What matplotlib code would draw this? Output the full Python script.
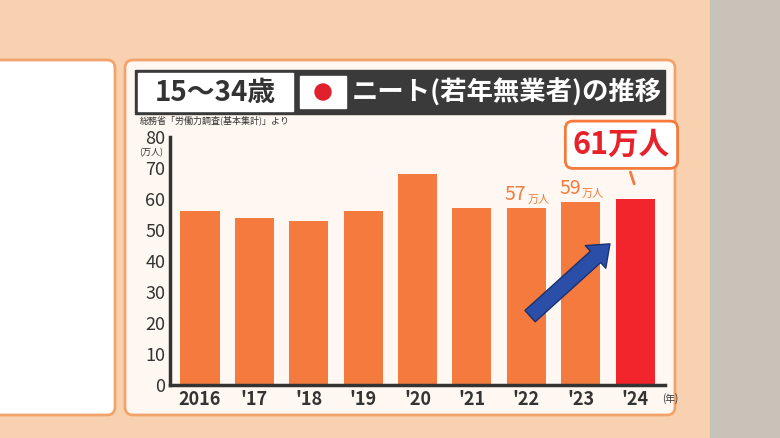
import matplotlib
matplotlib.use("Agg")
import matplotlib.pyplot as plt
from matplotlib.patches import FancyBboxPatch, Rectangle, Circle

plt.rcParams['font.family'] = ['Noto Sans CJK JP', 'DejaVu Sans']

years = ['2016', "'17", "'18", "'19", "'20", "'21", "'22", "'23", "'24"]
values = [56, 54, 53, 56, 68, 57, 57, 59, 60]
labels = {6: '57', 7: '59'}
yticks = [0, 10, 20, 30, 40, 50, 60, 70, 80]

fig = plt.figure(figsize=(7.8, 4.38), dpi=100)
fig.patch.set_facecolor('#F6C9A4')
bg = fig.add_axes([0, 0, 1, 1]); bg.set_xlim(0, 780); bg.set_ylim(438, 0); bg.axis('off')
bg.add_patch(Rectangle((0, 0), 780, 438, color='#F8D2B0'))
bg.add_patch(Rectangle((710, 0), 70, 438, color='#C9C2B8'))
bg.add_patch(FancyBboxPatch((-20, 60), 135, 355, boxstyle='round,pad=0,rounding_size=8', fc='white', ec='#F2A36B', lw=2))
bg.add_patch(FancyBboxPatch((125, 60), 550, 355, boxstyle='round,pad=0,rounding_size=8', fc='#FFF8F2', ec='#F2A36B', lw=2))
bg.add_patch(Rectangle((135, 70), 530, 44, color='#3A3A3A'))
bg.add_patch(Rectangle((138, 73), 155, 38, color='white'))
bg.text(215, 93, '15〜34歳', fontsize=20, fontweight='bold', color='#333333', ha='center', va='center')
bg.add_patch(Rectangle((300, 76), 46, 32, color='white'))
bg.add_patch(Circle((323, 92), 8, color='#E0202A'))
bg.text(352, 93, 'ニート(若年無業者)の推移', fontsize=19, fontweight='bold', color='white', ha='left', va='center')
bg.text(140, 120, '総務省「労働力調査(基本集計)」より', fontsize=6.5, color='#333333', ha='left', va='center')

ax = fig.add_axes([170/780, 1-385/438, (665-170)/780, (385-137)/438])
ax.set_facecolor('none')
colors = ['#F47A3E'] * 8 + ['#F2252D']
x = range(len(years))
ax.bar(x, values, width=0.72, color=colors)
ax.set_ylim(0, 80)
ax.set_xlim(-0.55, len(years) - 0.45)
ax.set_yticks(yticks)
ax.set_yticklabels([str(t) for t in yticks], fontsize=13, color='#333333')
ax.set_xticks(list(x))
ax.set_xticklabels(years, fontsize=13, fontweight='bold', color='#333333')
for s in ['top', 'right']:
    ax.spines[s].set_visible(False)
ax.spines['left'].set_linewidth(2.5); ax.spines['bottom'].set_linewidth(2.5)
ax.spines['left'].set_color('#333333'); ax.spines['bottom'].set_color('#333333')
ax.tick_params(length=0)
ax.text(-0.9, 76.5, '(万人)', fontsize=6.5, color='#333333', ha='center', va='top', clip_on=False)
ax.text(8.5, -4.5, '(年)', fontsize=7, color='#333333', ha='left', va='center', clip_on=False)
for i, lab in labels.items():
    ax.text(i, values[i] + 1, lab, fontsize=14, color='#F47A3E', ha='right', va='bottom')
    ax.text(i + 0.02, values[i] + 1, '万人', fontsize=8, color='#F47A3E', ha='left', va='bottom')
ax.annotate('61万人', xy=(8, values[8] + 4), xytext=(7.75, 77.5), fontsize=22, fontweight='bold',
            color='#E8222A', ha='center', va='center',
            bbox=dict(boxstyle='round,pad=0.25', fc='white', ec='#F47A3E', lw=2),
            arrowprops=dict(arrowstyle='-', color='#F47A3E', lw=2), annotation_clip=False)

top = fig.add_axes([0, 0, 1, 1], zorder=20); top.set_xlim(0, 780); top.set_ylim(438, 0); top.axis('off')
top.patch.set_alpha(0)
top.annotate('', xy=(612, 242), xytext=(528, 318),
             arrowprops=dict(arrowstyle='simple,head_width=2.2,head_length=1.4,tail_width=1.1',
                             fc='#2B4FA8', ec='#1A3270', lw=1))
fig.savefig('out.png', dpi=100)
